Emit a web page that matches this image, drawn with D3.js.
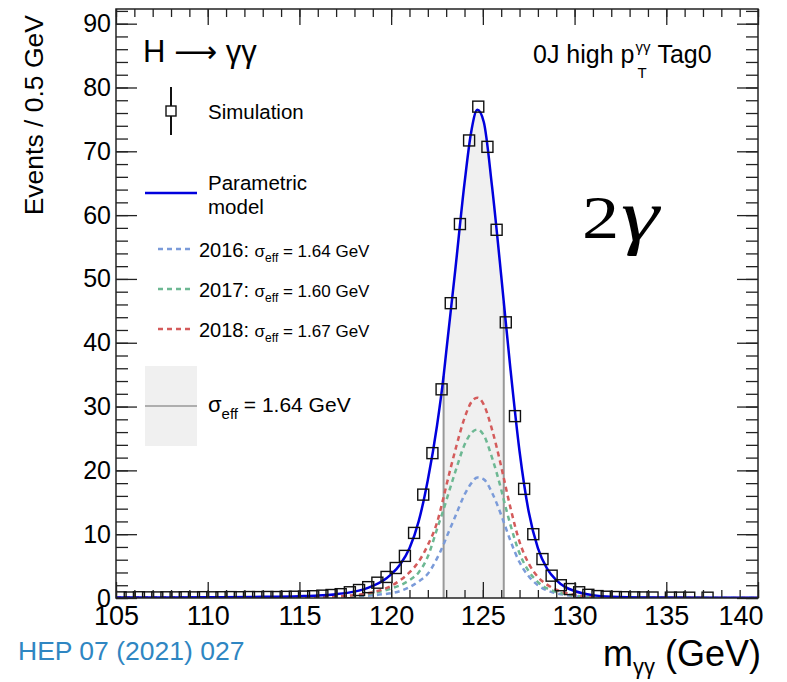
<!DOCTYPE html>
<html>
<head>
<meta charset="utf-8">
<script src="https://cdn.jsdelivr.net/npm/d3@7"></script>
<style>
  body { margin: 0; background: #fff; }
  svg { display: block; }
  text { font-family: "Liberation Sans", Arial, sans-serif; fill: #000; }
</style>
</head>
<body>
<div id="chart"></div>
<script>
// simulation histogram, 0.5 GeV bins (empty bins not drawn)
const binCenters = [105.25,105.75,106.25,106.75,107.25,107.75,108.25,108.75,109.25,109.75,
  110.25,110.75,111.25,111.75,112.25,112.75,113.25,113.75,114.25,114.75,115.25,115.75,
  116.25,116.75,117.25,117.75,118.25,118.75,119.25,119.75,120.25,120.75,121.25,121.75,
  122.25,122.75,123.25,123.75,124.25,124.75,125.25,125.75,126.25,126.75,127.25,127.75,
  128.25,128.75,129.25,129.75,130.25,130.75,131.25,131.75,132.25,132.75,133.25,133.75,
  134.25,135.25,135.75,136.25,137.25];
const simEvents = [0.1,0.08,0.12,0.1,0.09,0.11,0.1,0.12,0.1,0.13,
  0.11,0.12,0.14,0.12,0.15,0.14,0.16,0.15,0.18,0.2,0.22,0.28,
  0.37,0.47,0.6,0.9,1.25,1.7,2.4,3.3,4.7,6.6,10.2,16.2,
  22.7,32.7,46.2,58.6,71.7,77.0,70.7,57.7,43.2,28.5,17.1,10.0,
  6.1,3.5,2.0,1.4,0.9,0.5,0.3,0.2,0.15,0.12,0.1,0.09,
  0.08,0.06,0.06,0.05,0.05];

// model curves
const massGrid = [105,110,113,115,116,117,118,118.5,119,119.5,120,120.5,121,121.5,122,122.5,122.86,123,123.5,124,
  124.35,124.7,125.05,125.5,126,126.14,126.5,127,127.5,128,128.5,129,129.5,130,131,132,134,137,140];
const modelTotal = [0.08,0.12,0.18,0.28,0.38,0.6,1.0,1.35,1.9,2.6,3.7,5.3,7.8,12.0,18.5,27.0,34.8,38.5,51.5,65.0,
  72.8,76.5,74.6,64.5,50.5,46.4,36.0,23.0,13.5,7.8,4.6,2.8,1.7,1.1,0.45,0.2,0.07,0.03,0.02];
const model2016 = [0.02,0.03,0.05,0.07,0.1,0.16,0.25,0.32,0.42,0.58,0.75,1.1,1.7,2.6,3.8,6.2,8.4,9.4,12.8,16.2,
  17.9,18.9,18.6,16.5,13.0,11.9,9.0,5.6,3.4,2.0,1.2,0.75,0.47,0.3,0.12,0.06,0.03,0.02,0.01];
const model2017 = [0.02,0.04,0.07,0.1,0.14,0.22,0.38,0.52,0.75,1.05,1.5,2.0,2.8,4.0,6.5,10.8,13.9,15.2,19.8,24.0,
  25.8,26.4,25.5,22.0,17.0,15.4,11.5,7.0,4.2,2.5,1.5,0.95,0.6,0.38,0.15,0.07,0.03,0.02,0.01];
const model2018 = [0.03,0.05,0.08,0.12,0.17,0.27,0.45,0.62,0.9,1.3,1.9,2.8,4.0,5.7,8.3,11.8,15.8,17.5,23.2,28.2,
  30.6,31.4,30.3,26.4,20.6,18.8,14.2,8.8,5.4,3.3,2.1,1.3,0.8,0.5,0.2,0.09,0.04,0.02,0.01];

const years = ["2016", "2017", "2018"];
const yearSigma = ["1.64", "1.60", "1.67"];
const yearColors = ["#7b9bd9", "#6db893", "#d45b5b"];
const sigmaEff = "1.64";
const bandEdges = [122.86, 126.14];

const xTicks = [105, 110, 115, 120, 125, 130, 135, 140];
const yTicks = [0, 10, 20, 30, 40, 50, 60, 70, 80, 90];

const W = 787, H = 682;
const svg = d3.select("#chart").append("svg")
  .attr("width", W).attr("height", H);

const x = d3.scaleLinear().domain([105, 140]).range([116, 758]);
const y = d3.scaleLinear().domain([0, 92.3]).range([598, 9]);

svg.append("defs").append("clipPath").attr("id", "plot")
  .append("rect").attr("x", 116).attr("y", 9).attr("width", 642).attr("height", 589);
svg.append("defs").append("clipPath").attr("id", "band")
  .append("rect").attr("x", x(bandEdges[0])).attr("y", 9)
  .attr("width", x(bandEdges[1]) - x(bandEdges[0])).attr("height", 589);

const pts = (vals) => massGrid.map((m, i) => [m, vals[i]]);
const line = d3.line().x(d => x(d[0])).y(d => y(d[1])).curve(d3.curveMonotoneX);
const area = d3.area().x(d => x(d[0])).y0(y(0)).y1(d => y(d[1])).curve(d3.curveMonotoneX);

const plot = svg.append("g").attr("clip-path", "url(#plot)");

// sigma_eff band
plot.append("path").attr("clip-path", "url(#band)")
  .attr("d", area(pts(modelTotal))).attr("fill", "#f0f0f0");
plot.selectAll(".edge").data(bandEdges).join("line")
  .attr("x1", d => x(d)).attr("x2", d => x(d))
  .attr("y1", y(0)).attr("y2", d => y(modelTotal[massGrid.indexOf(d)]))
  .attr("stroke", "#999").attr("stroke-width", 2);

// per-year models
[model2016, model2017, model2018].forEach((vals, i) => {
  plot.append("path").attr("d", line(pts(vals)))
    .attr("fill", "none").attr("stroke", yearColors[i])
    .attr("stroke-width", 2.5).attr("stroke-dasharray", "5,4");
});

// total model
plot.append("path").attr("d", line(pts(modelTotal)))
  .attr("fill", "none").attr("stroke", "#0000dd").attr("stroke-width", 2.5);

// simulation squares
plot.selectAll(".sim").data(binCenters).join("rect")
  .attr("x", (d) => x(d) - 5.5)
  .attr("y", (d, i) => y(simEvents[i]) - 5.5)
  .attr("width", 11).attr("height", 11)
  .attr("fill", "none").attr("stroke", "#111").attr("stroke-width", 1.4);

// axes, ROOT style ticks on all four sides
const minorX = d3.range(105, 141, 1), minorY = d3.range(0, 93, 2);
const ax = (gen) => svg.append("g").call(gen).call(g => g.select(".domain").remove())
  .call(g => g.selectAll("line").attr("stroke", "#222").attr("stroke-width", 1.3));

ax(d3.axisBottom(x).tickValues(minorX).tickSize(-8).tickFormat(""))
  .attr("transform", `translate(0,${y(0)})`);
const xb = ax(d3.axisBottom(x).tickValues(xTicks).tickSize(-16).tickPadding(8).tickFormat(d3.format("d")))
  .attr("transform", `translate(0,${y(0)})`);
xb.selectAll("text").attr("font-size", 27).attr("font-family", "Liberation Sans, Arial, sans-serif");
xb.selectAll(".tick").filter(d => d === 140).select("text")
  .attr("text-anchor", "end").attr("x", 5);
ax(d3.axisTop(x).tickValues(minorX).tickSize(-8).tickFormat("")).attr("transform", "translate(0,9)");
ax(d3.axisTop(x).tickValues(xTicks).tickSize(-16).tickFormat("")).attr("transform", "translate(0,9)");

ax(d3.axisLeft(y).tickValues(minorY).tickSize(-12).tickFormat("")).attr("transform", "translate(116,0)");
const yl = ax(d3.axisLeft(y).tickValues(yTicks).tickSize(-21).tickPadding(5).tickFormat(d3.format("d")))
  .attr("transform", "translate(116,0)");
yl.selectAll("text").attr("font-size", 25).attr("font-family", "Liberation Sans, Arial, sans-serif");
ax(d3.axisRight(y).tickValues(minorY).tickSize(-12).tickFormat("")).attr("transform", "translate(758,0)");
ax(d3.axisRight(y).tickValues(yTicks).tickSize(-21).tickFormat("")).attr("transform", "translate(758,0)");

svg.append("rect").attr("x", 116).attr("y", 9).attr("width", 642).attr("height", 589)
  .attr("fill", "none").attr("stroke", "#222").attr("stroke-width", 1.5);

// titles
svg.append("text").attr("transform", "translate(43,15) rotate(-90)")
  .attr("text-anchor", "end").attr("font-size", 26.5).text("Events / 0.5 GeV");

const rich = (g, px, py, parts) => {
  const t = g.append("text").attr("x", px).attr("y", py);
  let prev = 0;
  parts.forEach(p => {
    const s = p.shift || 0;
    t.append("tspan").attr("font-size", p.size).attr("dy", s - prev)
      .attr("fill", p.fill || null).text(p.t);
    prev = s;
  });
  return t;
};

rich(svg, 603, 666, [{t: "m", size: 36}, {t: "\u03b3\u03b3", size: 22, shift: 8}, {t: " (GeV)", size: 36, shift: 0}]);
svg.append("text").attr("x", 18).attr("y", 660).attr("font-size", 26.5)
  .style("fill", "#2f86c2").text("HEP 07 (2021) 027");

// stray glyph cut at the top edge
svg.append("text").attr("x", 636).attr("y", -4).attr("font-size", 20).text("\u03b3");

// labels inside the frame
const hgg = svg.append("text").attr("x", 143).attr("y", 62).attr("font-size", 31);
hgg.append("tspan").text("H ");
hgg.append("tspan").style("font-family", "DejaVu Sans, sans-serif").attr("font-size", 30).text("\u27f6");
hgg.append("tspan").text(" \u03b3\u03b3");

const tag = svg.append("g");
const t1 = tag.append("text").attr("x", 533).attr("y", 63).attr("font-size", 25).text("0J high p");
const w1 = t1.node().getComputedTextLength();
const sup = tag.append("text").attr("x", 533 + w1 + 1).attr("y", 52).attr("font-size", 15).text("\u03b3\u03b3");
tag.append("text").attr("x", 533 + w1 + 3).attr("y", 78).attr("font-size", 15).text("T");
const w2 = sup.node().getComputedTextLength();
tag.append("text").attr("x", 533 + w1 + w2 + 8).attr("y", 63).attr("font-size", 25).text("Tag0");

svg.append("text").attr("transform", "translate(582,238) scale(1.2,1)")
  .style("font-family", "Liberation Serif, serif").attr("font-size", 62).text("2");
svg.append("text").attr("transform", "translate(621,240) scale(1.3,1)")
  .style("font-family", "Liberation Serif, serif").attr("font-size", 74)
  .attr("font-style", "italic").text("\u03b3");

// legend
const leg = svg.append("g");
leg.append("line").attr("x1", 171).attr("x2", 171).attr("y1", 87).attr("y2", 135)
  .attr("stroke", "#111").attr("stroke-width", 2);
leg.append("rect").attr("x", 166).attr("y", 106).attr("width", 10).attr("height", 10)
  .attr("fill", "#fff").attr("stroke", "#111").attr("stroke-width", 1.4);
leg.append("text").attr("x", 208).attr("y", 119).attr("font-size", 20.5).text("Simulation");

leg.append("line").attr("x1", 145).attr("x2", 197).attr("y1", 193).attr("y2", 193)
  .attr("stroke", "#0000dd").attr("stroke-width", 2.5);
leg.append("text").attr("x", 208).attr("y", 190).attr("font-size", 20.5).text("Parametric");
leg.append("text").attr("x", 208).attr("y", 214).attr("font-size", 20.5).text("model");

years.forEach((yr, i) => {
  const ly = 249 + i * 40;
  leg.append("line").attr("x1", 158).attr("x2", 191).attr("y1", ly).attr("y2", ly)
    .attr("stroke", yearColors[i]).attr("stroke-width", 2.5).attr("stroke-dasharray", "5,4");
  rich(leg, 199, ly + 8, [
    {t: yr + ": ", size: 20},
    {t: "\u03c3", size: 17},
    {t: "eff", size: 12, shift: 5},
    {t: " = " + yearSigma[i] + " GeV", size: 17, shift: 0}
  ]);
});

leg.append("rect").attr("x", 145).attr("y", 366).attr("width", 52).attr("height", 80).attr("fill", "#f0f0f0");
leg.append("line").attr("x1", 145).attr("x2", 197).attr("y1", 406).attr("y2", 406)
  .attr("stroke", "#999").attr("stroke-width", 1.5);
rich(leg, 208, 412, [
  {t: "\u03c3", size: 22},
  {t: "eff", size: 15, shift: 7},
  {t: " = " + sigmaEff + " GeV", size: 21, shift: 0}
]);
</script>
</body>
</html>
